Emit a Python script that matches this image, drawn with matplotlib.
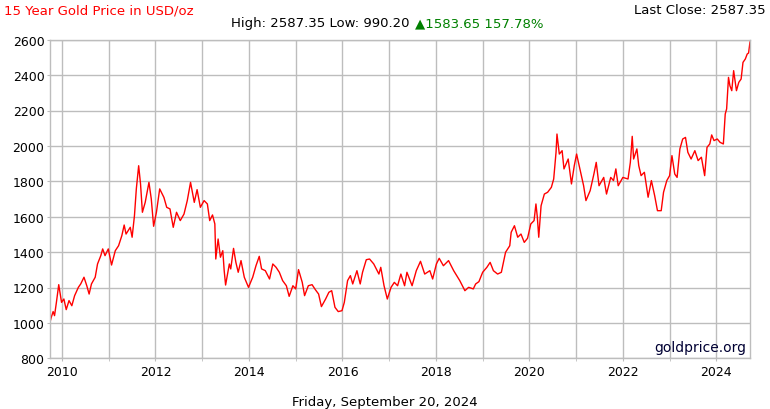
import matplotlib
matplotlib.use("Agg")
import matplotlib.pyplot as plt
from matplotlib.ticker import MultipleLocator

# precio del oro, lectura aproximada del grafico (año decimal, USD/oz)
years = [
    2009.73, 2009.77, 2009.81, 2009.84, 2009.88, 2009.93, 2009.99, 2010.04, 2010.09, 2010.15,
    2010.21, 2010.27, 2010.35, 2010.40, 2010.47, 2010.53, 2010.58, 2010.63, 2010.71, 2010.76,
    2010.83, 2010.87, 2010.92, 2010.99, 2011.06, 2011.14, 2011.21, 2011.28, 2011.33, 2011.37,
    2011.46, 2011.50, 2011.55, 2011.59, 2011.64, 2011.68, 2011.72, 2011.78, 2011.86, 2011.91,
    2011.96, 2012.02, 2012.09, 2012.18, 2012.24, 2012.31, 2012.38, 2012.45, 2012.53, 2012.61,
    2012.68, 2012.75, 2012.83, 2012.89, 2012.96, 2013.04, 2013.11, 2013.16, 2013.22, 2013.27,
    2013.29, 2013.34, 2013.39, 2013.44, 2013.47, 2013.50, 2013.58, 2013.61, 2013.67, 2013.72,
    2013.77, 2013.83, 2013.90, 2013.99, 2014.08, 2014.15, 2014.22, 2014.27, 2014.35, 2014.44,
    2014.51, 2014.58, 2014.65, 2014.72, 2014.80, 2014.86, 2014.94, 2015.00, 2015.06, 2015.14,
    2015.19, 2015.27, 2015.35, 2015.42, 2015.49, 2015.55, 2015.64, 2015.71, 2015.77, 2015.84,
    2015.91, 2015.99, 2016.04, 2016.11, 2016.17, 2016.22, 2016.31, 2016.38, 2016.43, 2016.51,
    2016.58, 2016.67, 2016.78, 2016.82, 2016.89, 2016.96, 2017.04, 2017.11, 2017.18, 2017.25,
    2017.33, 2017.38, 2017.49, 2017.58, 2017.67, 2017.76, 2017.87, 2017.93, 2018.01, 2018.07,
    2018.16, 2018.27, 2018.38, 2018.51, 2018.62, 2018.70, 2018.80, 2018.85, 2018.92, 2019.00,
    2019.09, 2019.16, 2019.23, 2019.32, 2019.40, 2019.49, 2019.58, 2019.61, 2019.68, 2019.75,
    2019.82, 2019.89, 2019.96, 2020.03, 2020.10, 2020.14, 2020.17, 2020.20, 2020.25, 2020.32,
    2020.39, 2020.47, 2020.52, 2020.57, 2020.59, 2020.64, 2020.70, 2020.74, 2020.83, 2020.90,
    2020.96, 2021.01, 2021.09, 2021.16, 2021.21, 2021.30, 2021.38, 2021.43, 2021.49, 2021.59,
    2021.65, 2021.74, 2021.80, 2021.85, 2021.90, 2022.00, 2022.11, 2022.16, 2022.20, 2022.23,
    2022.30, 2022.34, 2022.39, 2022.46, 2022.54, 2022.61, 2022.68, 2022.74, 2022.82, 2022.87,
    2022.94, 2023.00, 2023.05, 2023.11, 2023.16, 2023.22, 2023.28, 2023.34, 2023.39, 2023.46,
    2023.54, 2023.61, 2023.68, 2023.75, 2023.80, 2023.86, 2023.90, 2023.95, 2024.02, 2024.08,
    2024.15, 2024.19, 2024.22, 2024.26, 2024.29, 2024.33, 2024.37, 2024.43, 2024.48, 2024.53,
    2024.57, 2024.62, 2024.66, 2024.69, 2024.72,
]
prices = [
    990, 1032, 1064, 1041, 1116, 1216, 1116, 1135, 1075, 1126,
    1097, 1154, 1201, 1220, 1258, 1210, 1163, 1220, 1258, 1333,
    1380, 1418, 1380, 1418, 1327, 1408, 1436, 1493, 1553, 1502,
    1540, 1484, 1606, 1757, 1888, 1785, 1625, 1681, 1794, 1700,
    1546, 1625, 1757, 1709, 1653, 1644, 1540, 1625, 1578, 1615,
    1691, 1794, 1681, 1753, 1653, 1691, 1672, 1578, 1610, 1559,
    1361, 1474, 1371, 1408, 1295, 1214, 1333, 1305, 1421, 1342,
    1286, 1352, 1258, 1201, 1258, 1323, 1376, 1305, 1295, 1248,
    1333, 1314, 1286, 1239, 1210, 1150, 1210, 1192, 1301, 1229,
    1154, 1210, 1216, 1188, 1163, 1092, 1135, 1173, 1182, 1088,
    1064, 1069, 1116, 1239, 1267, 1220, 1295, 1220, 1286, 1357,
    1361, 1333, 1276, 1314, 1210, 1135, 1201, 1229, 1210, 1276,
    1210, 1286, 1210, 1295, 1348, 1276, 1295, 1248, 1333, 1365,
    1323, 1352, 1295, 1239, 1182, 1201, 1192, 1220, 1233, 1286,
    1314, 1342, 1295, 1276, 1286, 1399, 1436, 1512, 1549, 1484,
    1502, 1455, 1478, 1559, 1578, 1672, 1597, 1484, 1662, 1728,
    1738, 1766, 1813, 1964, 2067, 1954, 1973, 1870, 1926, 1785,
    1888, 1954, 1860, 1775, 1691, 1747, 1841, 1907, 1775, 1822,
    1728, 1822, 1804, 1870, 1775, 1822, 1813, 1907, 2054, 1926,
    1983, 1888, 1832, 1851, 1710, 1804, 1719, 1634, 1634, 1738,
    1804, 1832, 1945, 1841, 1822, 1983, 2039, 2048, 1964, 1926,
    1973, 1917, 1936, 1832, 1992, 2011, 2062, 2030, 2039, 2020,
    2011, 2180, 2209, 2387, 2340, 2312, 2425, 2312, 2359, 2378,
    2472, 2491, 2519, 2525, 2587.35,
]

tick_years = [2010, 2012, 2014, 2016, 2018, 2020, 2022, 2024]
tick_prices = [800, 1000, 1200, 1400, 1600, 1800, 2000, 2200, 2400, 2600]

gris = '#bdbdbd'

fig = plt.figure(figsize=(7.7, 4.1), dpi=100)
ax = fig.add_axes([50 / 770, (410 - 359.3) / 410, 700 / 770, 318.6 / 410])

ax.plot(years, prices, color='#ff0000', linewidth=1.0)

ax.set_xlim(2009.743, 2024.72)
ax.set_ylim(800, 2600)
ax.set_xticks(tick_years)
ax.set_xticklabels([str(y) for y in tick_years])
ax.xaxis.set_minor_locator(MultipleLocator(1))
ax.set_yticks(tick_prices)
ax.grid(True, which='both', color=gris, linewidth=1.0)
ax.set_axisbelow(True)
ax.tick_params(axis='both', which='both', length=2, color=gris, labelsize=9, pad=2)
ax.tick_params(axis='x', pad=3)
for s in ax.spines.values():
    s.set_color(gris)
    s.set_linewidth(1.0)

fig.text(4 / 770, 1 - 11 / 410, '15 Year Gold Price in USD/oz', color='#ff0000',
         fontsize=9.5, va='center', ha='left')
fig.text(766 / 770, 1 - 11 / 410, 'Last Close: 2587.35', color='black',
         fontsize=9.5, va='center', ha='right')
fig.text(410 / 770, 1 - 24 / 410, 'High: 2587.35 Low: 990.20', color='black',
         fontsize=9.5, va='center', ha='right')
fig.text(415 / 770, 1 - 24 / 410, '\u25b21583.65 157.78%', color='#008000',
         fontsize=9.5, va='center', ha='left')
ax.text(0.994, 0.012, 'goldprice.org', transform=ax.transAxes, color='#000033',
        fontsize=10, ha='right', va='bottom')
fig.text(385 / 770, 1 - 403 / 410, 'Friday, September 20, 2024', color='black',
         fontsize=9.5, va='center', ha='center')

plt.savefig('out.png', dpi=100)
plt.close()
